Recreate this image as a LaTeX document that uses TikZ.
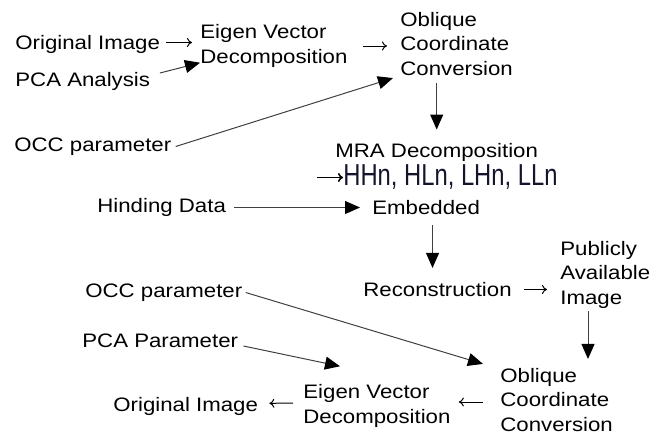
\documentclass[tikz,border=0pt]{standalone}
\usepackage{fontspec}
\setmainfont{Liberation Sans}[FakeStretch=1.14]
\newfontfamily\narrowfont{Liberation Sans}[FakeStretch=0.785]
\usetikzlibrary{arrows.meta}
\definecolor{subband}{RGB}{20,20,45}
\begin{document}
\begin{tikzpicture}[x=0.5pt,y=-0.5pt,>={Triangle[length=7.5pt,width=6.5pt,color=black]},
	lbl/.style={anchor=west,inner sep=0pt,align=left,font=\fontsize{9.75}{12.25}\selectfont},
	tri/.style={->,draw=black!75,line width=0.5pt},
	glyph/.style={-{To[length=2.5pt,width=4.5pt]},line width=0.5pt}]
			\useasboundingbox (0,0) rectangle (660,439);
			\node[lbl] (orig1) at (15,44.5) {Original Image};
			\node[lbl] (evd1) at (200,46) {Eigen Vector\\Decomposition};
			\node[lbl] (pca1) at (15,81) {PCA Analysis};
			\node[lbl] (occ1) at (400,44) {Oblique\\Coordinate\\Conversion};
			\node[lbl] (occp1) at (14,146.5) {OCC parameter};
			\node[lbl] (mra) at (335,152) {MRA Decomposition};
			\node[lbl,font=\narrowfont\fontsize{15.15}{18}\selectfont,text=subband] (sub) at (343,177.5) {HHn, HLn, LHn, LLn};
			\node[lbl] (hd) at (97,207.5) {Hinding Data};
			\node[lbl] (emb) at (372,207.5) {Embedded};
			\node[lbl] (rec) at (363,289.5) {Reconstruction};
			\node[lbl] (pub) at (560,274.5) {Publicly\\Available\\Image};
			\node[lbl] (occp2) at (85,292.5) {OCC parameter};
			\node[lbl] (pcap) at (82,341) {PCA Parameter};
			\node[lbl] (evd2) at (303,406) {Eigen Vector\\Decomposition};
			\node[lbl] (occ2) at (500,400) {Oblique\\Coordinate\\Conversion};
			\node[lbl] (orig2) at (113,406.5) {Original Image};
			\draw[glyph,shorten >=4pt] ([shift={(3pt,1pt)}]orig1.east) -- ([yshift=1pt]orig1.east -| evd1.west);
			\draw[tri] ([shift={(4.75pt,4pt)}]pca1.east) -- ([yshift=2.5pt]evd1.south west);
			\draw[glyph,shorten >=6.5pt] ([xshift=7.5pt]evd1.east) -- (evd1.east -| occ1.west);
			\draw[tri] ([xshift=2pt]occp1.east) -- ([shift={(-3.5pt,-1pt)}]occ1.south west);
			\draw[tri,shorten <=3.5pt,shorten >=6.5pt] (occ1.south -| mra.north) -- (mra.north);
			\draw[glyph,line width=0.8pt] ([xshift=-13pt]sub.west) -- (sub.west);
			\draw[tri,shorten >=6pt] ([xshift=4pt]hd.east) -- (emb.west);
			\draw[tri,shorten <=5pt,shorten >=7pt] ([xshift=-2.5pt]rec.north |- emb.south) -- ([xshift=-2.5pt]rec.north);
			\draw[glyph,shorten >=6.5pt] ([xshift=6pt]rec.east) -- (rec.east -| pub.west);
			\draw[tri,shorten <=1.5pt,shorten >=4.5pt] ([xshift=14pt]pub.south west) -- ([xshift=14pt]pub.south west |- occ2.north);
			\draw[tri] ([xshift=1.5pt]occp2.east) -- ([shift={(-8.5pt,2pt)}]occ2.north west);
			\draw[tri] ([shift={(2.5pt,-2.5pt)}]pcap.east) -- ([shift={(18.5pt,9pt)}]evd2.north west);
			\draw[glyph,shorten >=4pt] ([shift={(-8.5pt,-1pt)}]occ2.west) -- ([yshift=-1pt]occ2.west -| evd2.east);
			\draw[glyph,shorten >=5.5pt] ([shift={(-5pt,1.5pt)}]evd2.west) -- ([yshift=1.5pt]orig2.east);
\end{tikzpicture}
\end{document}
